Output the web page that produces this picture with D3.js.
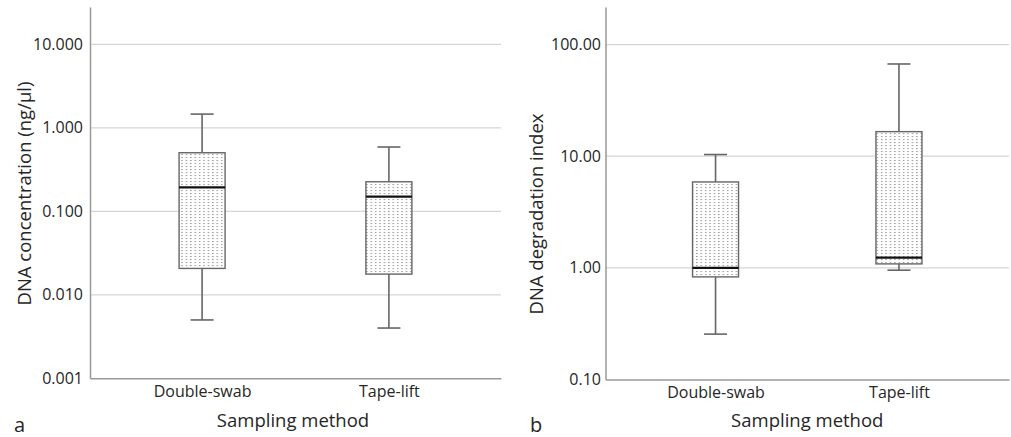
<!DOCTYPE html>
<html>
<head>
<meta charset="utf-8">
<script src="https://cdn.jsdelivr.net/npm/d3@7/dist/d3.min.js"></script>
<style>
  html, body { margin: 0; padding: 0; background: #fff; }
  text { font-family: "Open Sans", "DejaVu Sans", sans-serif; fill: #262626; }
</style>
</head>
<body>
<svg id="chart" width="1011" height="437"></svg>
<script>
// ---- Data ----
const categories = ["Double-swab", "Tape-lift"];

// Panel a: DNA concentration (ng/µl)
const concMin    = [0.005, 0.004];
const concQ1     = [0.0207, 0.0177];
const concMedian = [0.194, 0.150];
const concQ3     = [0.503, 0.226];
const concMax    = [1.46, 0.589];
const concTicks  = [0.001, 0.01, 0.1, 1, 10];
const concTickLabels = ["0.001", "0.010", "0.100", "1.000", "10.000"];

// Panel b: DNA degradation index
const degMin    = [0.255, 0.953];
const degQ1     = [0.83, 1.085];
const degMedian = [1.0, 1.237];
const degQ3     = [5.88, 16.6];
const degMax    = [10.35, 67];
const degTicks  = [0.1, 1, 10, 100];
const degTickLabels = ["0.10", "1.00", "10.00", "100.00"];

const svg = d3.select("#chart");

// dotted fill pattern
const defs = svg.append("defs");
const pat = defs.append("pattern")
  .attr("id", "dots").attr("patternUnits", "userSpaceOnUse")
  .attr("width", 4.4).attr("height", 3);
pat.append("rect").attr("width", 4.4).attr("height", 3).attr("fill", "#fff");
pat.append("rect").attr("x", 1).attr("y", 1).attr("width", 1.3).attr("height", 1.1).attr("fill", "#8e8e8e");

function panel(opts) {
  const g = svg.append("g");
  const y = d3.scaleLog().domain(opts.domain).range([opts.bottom, opts.top]);
  const x = d3.scalePoint().domain(categories).range([opts.left, opts.right]).padding(0.6);

  // gridlines
  g.selectAll("line.grid").data(opts.ticks.slice(1)).join("line")
    .attr("x1", opts.left).attr("x2", opts.right)
    .attr("y1", d => y(d)).attr("y2", d => y(d))
    .attr("stroke", "#d6d6d6").attr("stroke-width", 1.3);

  // y axis
  const yAxis = d3.axisLeft(y).tickValues(opts.ticks)
    .tickFormat((d, i) => opts.tickLabels[i]).tickSize(0).tickPadding(opts.tickPad);
  const ya = g.append("g").attr("transform", `translate(${opts.left},0)`).call(yAxis);
  ya.select(".domain").attr("stroke", "#999").attr("stroke-width", 1.5);
  ya.selectAll("text").style("font-size", "16px").attr("fill", "#262626");

  // x axis
  const xAxis = d3.axisBottom(x).tickSize(0).tickPadding(7);
  const xa = g.append("g").attr("transform", `translate(0,${opts.bottom})`).call(xAxis);
  xa.select(".domain").attr("stroke", "#999").attr("stroke-width", 1.5);
  xa.selectAll("text").style("font-size", "16px").attr("fill", "#262626");

  const bw = 46, cw = 23;
  const data = categories.map((c, i) => ({
    c, min: opts.min[i], q1: opts.q1[i], med: opts.med[i], q3: opts.q3[i], max: opts.max[i]
  }));
  const bx = g.selectAll("g.box").data(data).join("g");
  // whiskers
  bx.append("line").attr("x1", d => x(d.c)).attr("x2", d => x(d.c))
    .attr("y1", d => y(d.max)).attr("y2", d => y(d.q3))
    .attr("stroke", "#666").attr("stroke-width", 1.6);
  bx.append("line").attr("x1", d => x(d.c)).attr("x2", d => x(d.c))
    .attr("y1", d => y(d.q1)).attr("y2", d => y(d.min))
    .attr("stroke", "#666").attr("stroke-width", 1.6);
  // caps
  bx.append("line").attr("x1", d => x(d.c) - cw / 2).attr("x2", d => x(d.c) + cw / 2)
    .attr("y1", d => y(d.max)).attr("y2", d => y(d.max))
    .attr("stroke", "#666").attr("stroke-width", 1.6);
  bx.append("line").attr("x1", d => x(d.c) - cw / 2).attr("x2", d => x(d.c) + cw / 2)
    .attr("y1", d => y(d.min)).attr("y2", d => y(d.min))
    .attr("stroke", "#666").attr("stroke-width", 1.6);
  // box
  bx.append("rect").attr("x", d => x(d.c) - bw / 2).attr("width", bw)
    .attr("y", d => y(d.q3)).attr("height", d => y(d.q1) - y(d.q3))
    .attr("fill", "url(#dots)").attr("stroke", "#666").attr("stroke-width", 1.4);
  // median
  bx.append("line").attr("x1", d => x(d.c) - bw / 2).attr("x2", d => x(d.c) + bw / 2)
    .attr("y1", d => y(d.med)).attr("y2", d => y(d.med))
    .attr("stroke", "#111").attr("stroke-width", 2.2);

  // axis titles
  g.append("text").attr("x", (opts.left + opts.right) / 2 + opts.xTitleShift).attr("y", 427)
    .attr("text-anchor", "middle").style("font-size", "18.5px").text("Sampling method");
  g.append("text").attr("transform", `translate(${opts.yTitleX},${opts.yTitleY}) rotate(-90)`)
    .attr("text-anchor", "middle").style("font-size", "18.5px").text(opts.yTitle);
  g.append("text").attr("x", opts.letterX).attr("y", 432).style("font-size", "20px").text(opts.letter);
}

panel({
  left: 90, right: 501, top: 7, bottom: 378.3,
  domain: [0.001, 28], ticks: concTicks, tickLabels: concTickLabels, tickPad: 7,
  min: concMin, q1: concQ1, med: concMedian, q3: concQ3, max: concMax,
  yTitle: "DNA concentration (ng/µl)", yTitleX: 31, yTitleY: 193.5,
  xTitleShift: -2.5, letter: "a", letterX: 14
});
panel({
  left: 605.5, right: 1009, top: 7, bottom: 379.5,
  domain: [0.1, 217], ticks: degTicks, tickLabels: degTickLabels, tickPad: 4.5,
  min: degMin, q1: degQ1, med: degMedian, q3: degQ3, max: degMax,
  yTitle: "DNA degradation index", yTitleX: 543, yTitleY: 214,
  xTitleShift: 0, letter: "b", letterX: 530
});
</script>
</body>
</html>
